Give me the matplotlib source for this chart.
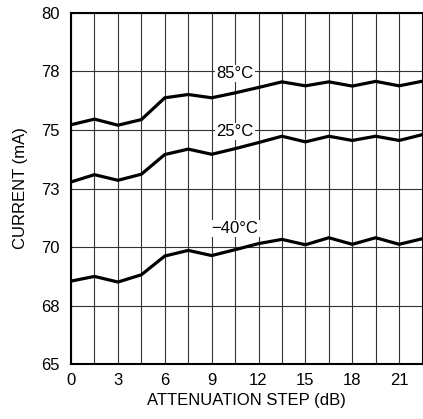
import matplotlib
matplotlib.use("Agg")
import matplotlib.pyplot as plt
import numpy as np

plt.rcParams["font.family"] = ["Liberation Sans Narrow", "Liberation Sans", "DejaVu Sans"]

# attenuation step (dB), 1.5 dB per step
steps = [0, 1.5, 3, 4.5, 6, 7.5, 9, 10.5, 12, 13.5, 15, 16.5, 18, 19.5, 21, 22.5]

i_85c = [75.22, 75.46, 75.20, 75.44, 76.37, 76.51, 76.37, 76.58,
         76.81, 77.05, 76.88, 77.05, 76.87, 77.07, 76.88, 77.08]
i_25c = [72.78, 73.09, 72.85, 73.11, 73.95, 74.18, 73.96, 74.20,
         74.46, 74.73, 74.49, 74.73, 74.55, 74.73, 74.55, 74.80]
i_m40c = [68.55, 68.75, 68.51, 68.82, 69.62, 69.86, 69.64, 69.89,
          70.15, 70.33, 70.10, 70.40, 70.12, 70.40, 70.12, 70.36]

x_ticks = [0, 3, 6, 9, 12, 15, 18, 21]
y_ticks = [65, 67.5, 70, 72.5, 75, 77.5, 80]
y_tick_labels = ["65", "68", "70", "73", "75", "78", "80"]

# (label, x, y)
labels = [("85\u00b0C", 10.5, 77.4), ("25\u00b0C", 10.5, 74.93), ("\u221240\u00b0C", 10.5, 70.8)]

fig = plt.figure(figsize=(4.23, 4.19), dpi=100)
ax = fig.add_axes([0.168, 0.1305, 0.831, 0.8392])

for ys in (i_85c, i_25c, i_m40c):
    ax.plot(steps, ys, color="black", lw=2.3, solid_joinstyle="miter", zorder=3)

for txt, x, y in labels:
    ax.text(x, y, txt, ha="center", va="center", fontsize=12, zorder=4,
            bbox=dict(facecolor="white", edgecolor="none", pad=1.0))

ax.set_xlim(0, 22.5)
ax.set_ylim(65, 80)
ax.set_xticks(x_ticks)
ax.set_xticks(np.arange(0, 22.6, 1.5), minor=True)
ax.set_yticks(y_ticks)
ax.set_yticklabels(y_tick_labels)
ax.grid(True, which="both", color="#333333", lw=0.8)
ax.tick_params(which="both", length=0, labelsize=12)
ax.tick_params(axis="y", pad=8)
ax.tick_params(axis="x", pad=6)

for s in ax.spines.values():
    s.set_linewidth(1.5)
    s.set_zorder(5)

ax.set_xlabel("ATTENUATION STEP (dB)", fontsize=12, labelpad=4)
ax.set_ylabel("CURRENT (mA)", fontsize=12, labelpad=10)

fig.savefig("out.png", dpi=100)
